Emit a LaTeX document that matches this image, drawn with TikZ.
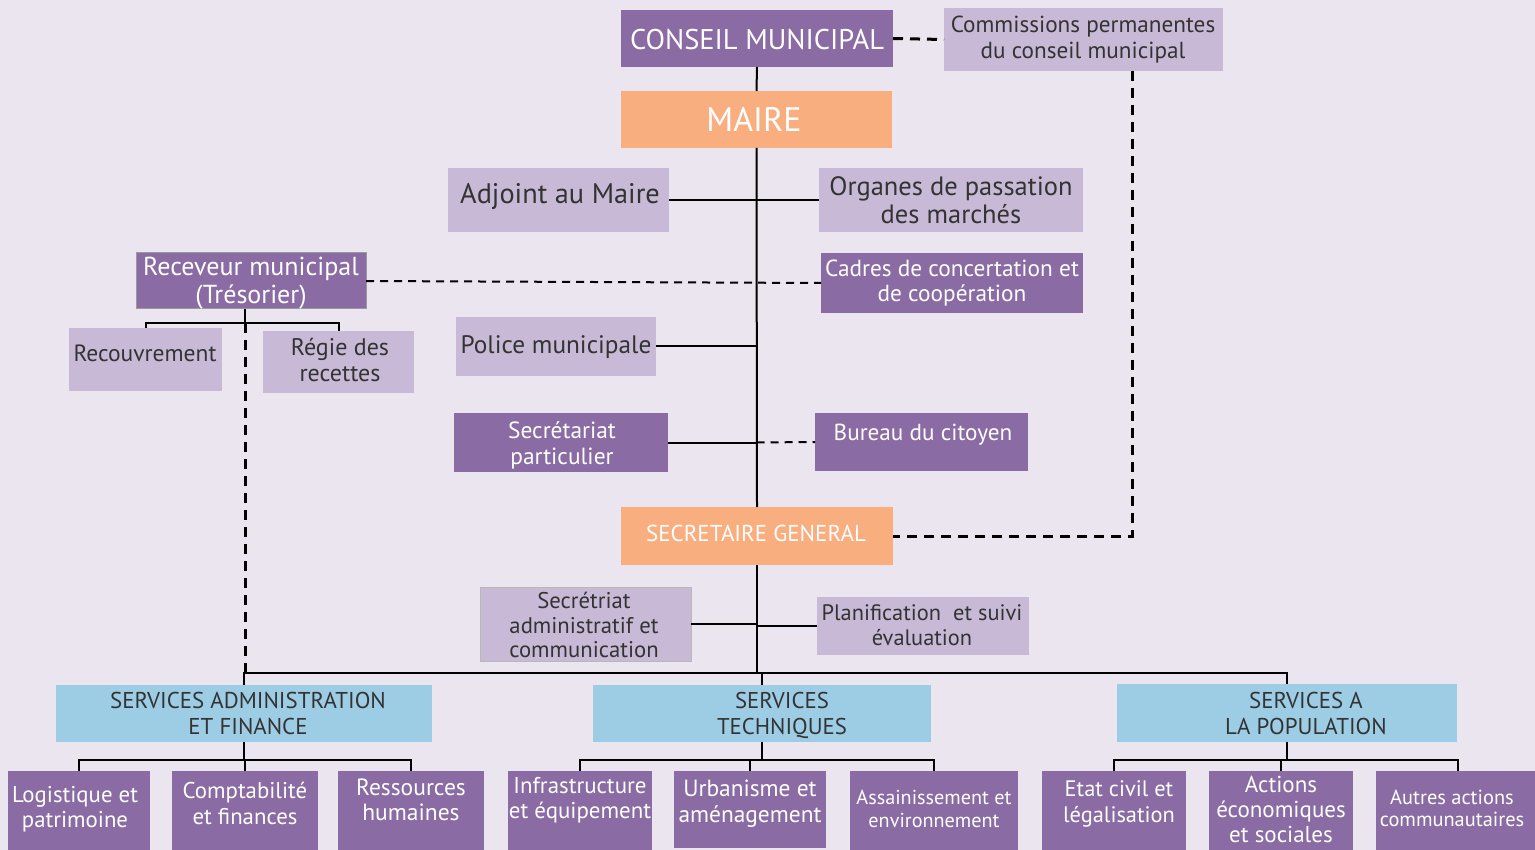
\documentclass[tikz,border=0pt]{standalone}
\usepackage{fontspec}
\setmainfont{PT Sans}
\definecolor{bg}{HTML}{EBE5EF}
\definecolor{dk}{HTML}{8A6BA3}
\definecolor{lt}{HTML}{C8B9D6}
\definecolor{og}{HTML}{F9AE80}
\definecolor{bl}{HTML}{9DCDE5}
\definecolor{tx}{HTML}{333333}
\definecolor{edge}{HTML}{9A9A9A}
\newcommand\fz[2]{\fontsize{#1}{#2}\selectfont}
\newcommand\mybox[6]{\node[box,#6,minimum width={#4-#2},minimum height={#5-#3}] (#1) at ({(#2+#4)/2},{(#3+#5)/2}) {};}
\newcommand\mytxt[5]{\node[txt,#4] (#1) at (#2,#3) {#5};}
\tikzset{
  box/.style={rectangle,inner sep=0pt,outer sep=0pt,draw=none},
  dkb/.style={fill=dk},
  ltb/.style={fill=lt},
  ogb/.style={fill=og},
  blb/.style={fill=bl},
  txt/.style={align=center,inner sep=0pt,text=tx},
  wt/.style={text=white},
  conn/.style={draw=black,line width=2pt},
  thickdash/.style={draw=black,line width=3pt,dash pattern=on 10pt off 7pt},
  thindash/.style={draw=black,line width=2pt,dash pattern=on 8pt off 6pt}
}
\begin{document}
\begin{tikzpicture}[x=1pt,y=-1pt]
\useasboundingbox (0,0) rectangle (1535,850);
\clip (0,0) rectangle (1535,850);
\fill[bg] (0,0) rectangle (1535,850);
% boxes
\mybox{cm}{621}{10}{893}{67}{dkb}
\mybox{com}{944}{8}{1223}{71}{ltb}
\mybox{maire}{621}{91}{892}{148}{ogb}
\mybox{adj}{448}{168}{669}{232}{ltb}
\mybox{org}{819}{168}{1083}{232}{ltb}
\mybox{rec}{136}{253}{366}{309}{dkb,draw=edge,line width=1pt}
\mybox{cad}{821}{253}{1083}{313}{dkb}
\mybox{recouv}{69}{328}{222}{391}{ltb}
\mybox{regie}{263}{331}{414}{393}{ltb}
\mybox{police}{456}{317}{656}{376}{ltb}
\mybox{secp}{454}{413}{668}{472}{dkb}
\mybox{bureau}{815}{413}{1028}{471}{dkb}
\mybox{sg}{621}{507}{893}{565}{ogb}
\mybox{seca}{480}{587}{691}{661}{ltb,draw=edge!70,line width=0.8pt}
\mybox{plan}{817}{597}{1029}{655}{ltb}
\mybox{saf}{56}{685}{432}{742}{blb}
\mybox{st}{593}{685}{931}{742}{blb}
\mybox{sap}{1117}{684}{1457}{742}{blb}
\mybox{log}{8}{771}{150}{870}{dkb}
\mybox{cpt}{172}{771}{318}{870}{dkb}
\mybox{rh}{338}{771}{484}{870}{dkb}
\mybox{inf}{508}{771}{652}{870}{dkb}
\mybox{urb}{674}{771}{826}{848}{dkb}
\mybox{ass}{850}{771}{1018}{870}{dkb}
\mybox{etat}{1042}{771}{1186}{870}{dkb}
\mybox{act}{1209}{771}{1353}{870}{dkb}
\mybox{aut}{1376}{771}{1540}{870}{dkb}
% texts
\mytxt{tcm}{757}{39.5}{wt,font=\fz{28.5}{32}}{CONSEIL MUNICIPAL}
\mytxt{tcom}{1083}{40}{font=\fz{23.2}{26}}{Commissions permanentes\\du conseil municipal}
\mytxt{tmaire}{754}{119}{wt,font=\fz{34}{38}}{MAIRE}
\mytxt{tadj}{560}{196.5}{font=\fz{28.3}{30}}{Adjoint au Maire}
\mytxt{torg}{951}{200}{font=\fz{26.5}{28}}{Organes de passation\\des marchés}
\mytxt{trec}{251}{283}{wt,font=\fz{26}{28}}{Receveur municipal\\(Trésorier)}
\mytxt{tcad}{952}{283}{wt,font=\fz{23.3}{25}}{Cadres de concertation et\\de coopération}
\mytxt{trecouv}{145}{353.5}{font=\fz{23.5}{25}}{Recouvrement}
\mytxt{tregie}{340}{360}{font=\fz{24}{26}}{Régie des\\recettes}
\mytxt{tpolice}{556}{347}{font=\fz{25.3}{28}}{Police municipale}
\mytxt{tsecp}{562}{445}{wt,font=\fz{23.4}{26}}{Secrétariat\\particulier}
\mytxt{tbureau}{923}{435}{wt,font=\fz{23.2}{25}}{Bureau du citoyen}
\mytxt{tsg}{756}{533}{wt,font=\fz{23}{24}}{SECRETAIRE GENERAL}
\mytxt{tseca}{584}{625}{font=\fz{22.7}{24.5}}{Secrétriat\\administratif et\\communication}
\mytxt{tplan}{922}{625}{font=\fz{22.4}{25}}{Planification\ \ et suivi\\évaluation}
\mytxt{tsaf}{248}{713}{font=\fz{22.9}{26}}{SERVICES ADMINISTRATION\\ET FINANCE}
\mytxt{tst}{782}{715}{font=\fz{22.8}{26}}{SERVICES\\TECHNIQUES}
\mytxt{tsap}{1306}{713}{font=\fz{22.9}{26}}{SERVICES A\\LA POPULATION}
\mytxt{tlog}{75}{809}{wt,font=\fz{22.8}{25}}{Logistique et\\patrimoine}
\mytxt{tcpt}{245}{803}{wt,font=\fz{22.8}{26}}{Comptabilité\\et finances}
\mytxt{trh}{411}{800}{wt,font=\fz{23.5}{25}}{Ressources\\humaines}
\mytxt{tinf}{580}{800.5}{wt,font=\fz{22.9}{25}}{Infrastructure\\et équipement}
\mytxt{turb}{750}{803.5}{wt,font=\fz{23.4}{26}}{Urbanisme et\\aménagement}
\mytxt{tass}{934}{809}{wt,font=\fz{20.2}{23}}{Assainissement et\\environnement}
\mytxt{tetat}{1119}{803.5}{wt,font=\fz{22.4}{26}}{Etat civil et\\légalisation}
\mytxt{tact}{1281}{809.5}{wt,font=\fz{23}{25}}{Actions\\économiques\\et sociales}
\mytxt{taut}{1452}{808.5}{wt,font=\fz{20.4}{22}}{Autres actions\\communautaires}
% coordinates
\coordinate (busL) at (245,673);
\coordinate (recb) at (245,323);
\coordinate (bb) at (0,760);
\coordinate (comdrop) at ([xshift=48.5pt]com.south);
% main spine
\draw[conn] (cm.south) -- (maire.north);
\draw[conn] (maire.south) -- (sg.north);
\draw[conn] (adj.east) -- (org.west);
\draw[conn] (police.east) -- (police.east -| maire.south);
\draw[conn] (secp.east) -- (secp.east -| maire.south);
\draw[thindash] (secp.east -| maire.south) -- (bureau.west);
\draw[conn] (seca.east) -- (seca.east -| sg.south);
\draw[conn] (plan.west -| sg.south) -- (plan.west);
\draw[conn] (sg.south) -- (sg.south |- busL);
% dashed links
\draw[thickdash] (cm.east) -- (com.west);
\draw[thickdash] (comdrop) |- (sg.east);
\draw[thindash] (rec.east) -- (cad.west);
% receveur tree
\draw[conn] (rec.south -| recb) -- (recb);
\draw[conn] (recouv.north) -- (recouv.north |- recb) -- (regie.north |- recb) -- (regie.north);
\draw[thickdash] (recb) -- (busL);
% services bus
\draw[conn] (saf.north) -- (saf.north |- busL) -- (sap.north |- busL) -- (sap.north);
\draw[conn] (st.north) -- (st.north |- busL);
% lower trees
\draw[conn] (saf.south) -- (saf.south |- bb);
\draw[conn] (log.north) -- (log.north |- bb) -- (rh.north |- bb) -- (rh.north);
\draw[conn] (cpt.north) -- (cpt.north |- bb);
\draw[conn] (st.south) -- (st.south |- bb);
\draw[conn] (inf.north) -- (inf.north |- bb) -- (ass.north |- bb) -- (ass.north);
\draw[conn] (urb.north) -- (urb.north |- bb);
\draw[conn] (sap.south) -- (sap.south |- bb);
\draw[conn] (etat.north) -- (etat.north |- bb) -- (aut.north |- bb) -- (aut.north);
\draw[conn] (act.north) -- (act.north |- bb);
\end{tikzpicture}
\end{document}
